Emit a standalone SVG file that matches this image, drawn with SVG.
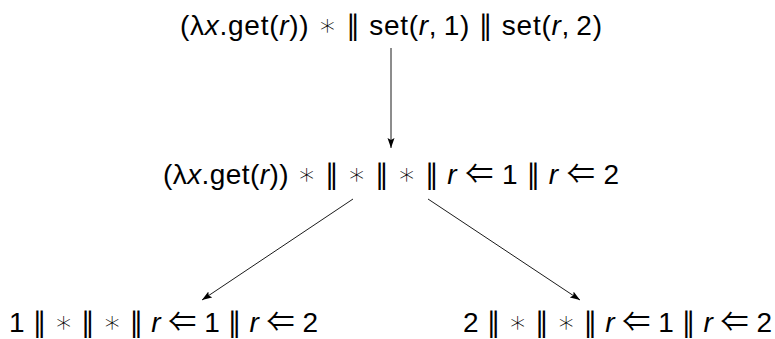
<svg xmlns="http://www.w3.org/2000/svg" width="775" height="339" viewBox="0 0 775 339">
<style>
.t{font-family:"Liberation Sans","DejaVu Sans",sans-serif;font-size:28px;fill:#000;text-anchor:middle}
.i{font-style:italic}
.s{font-family:"DejaVu Sans",sans-serif}
.a{font-family:"Noto Sans CJK JP","DejaVu Sans",sans-serif;font-size:30px;font-weight:300}
.l{font-family:"Noto Sans CJK JP",sans-serif;font-size:28px}
.e{stroke:#000;stroke-width:0.9;fill:none}
</style>
<defs>
<marker id="ah" markerUnits="userSpaceOnUse" markerWidth="11" markerHeight="8" refX="10" refY="4" orient="auto">
<path d="M0,0.5 L10,4 L0,7.5 L2,4 z" fill="#000"/>
</marker>
</defs>
<rect width="775" height="339" fill="#fff"/>
<g id="n1"><text class="t" x="391" y="35" textLength="422" lengthAdjust="spacing">(λ<tspan class="i">x</tspan>.get(<tspan class="i">r</tspan>)) <tspan class="a">∗</tspan> <tspan class="s">∥</tspan> set(<tspan class="i">r</tspan>,&#8201;1) <tspan class="s">∥</tspan> set(<tspan class="i">r</tspan>,&#8201;2)</text></g>
<g id="n2"><text class="t" x="391" y="184" textLength="456" lengthAdjust="spacing">(λ<tspan class="i">x</tspan>.get(<tspan class="i">r</tspan>)) <tspan class="a">∗</tspan> <tspan class="s">∥</tspan> <tspan class="a">∗</tspan> <tspan class="s">∥</tspan> <tspan class="a">∗</tspan> <tspan class="s">∥</tspan> <tspan class="i">r</tspan> <tspan class="l">⇐</tspan> 1 <tspan class="s">∥</tspan> <tspan class="i">r</tspan> <tspan class="l">⇐</tspan> 2</text></g>
<g id="n3"><text class="t" x="163.5" y="332" textLength="309" lengthAdjust="spacing">1 <tspan class="s">∥</tspan> <tspan class="a">∗</tspan> <tspan class="s">∥</tspan> <tspan class="a">∗</tspan> <tspan class="s">∥</tspan> <tspan class="i">r</tspan> <tspan class="l">⇐</tspan> 1 <tspan class="s">∥</tspan> <tspan class="i">r</tspan> <tspan class="l">⇐</tspan> 2</text></g>
<g id="n4"><text class="t" x="617.5" y="332" textLength="309" lengthAdjust="spacing">2 <tspan class="s">∥</tspan> <tspan class="a">∗</tspan> <tspan class="s">∥</tspan> <tspan class="a">∗</tspan> <tspan class="s">∥</tspan> <tspan class="i">r</tspan> <tspan class="l">⇐</tspan> 1 <tspan class="s">∥</tspan> <tspan class="i">r</tspan> <tspan class="l">⇐</tspan> 2</text></g>
<g id="edges">
<line class="e" x1="391" y1="48" x2="391" y2="148" marker-end="url(#ah)"/>
<line class="e" x1="353" y1="199" x2="202" y2="300" marker-end="url(#ah)"/>
<line class="e" x1="428" y1="199" x2="580" y2="300" marker-end="url(#ah)"/>
</g>
</svg>
